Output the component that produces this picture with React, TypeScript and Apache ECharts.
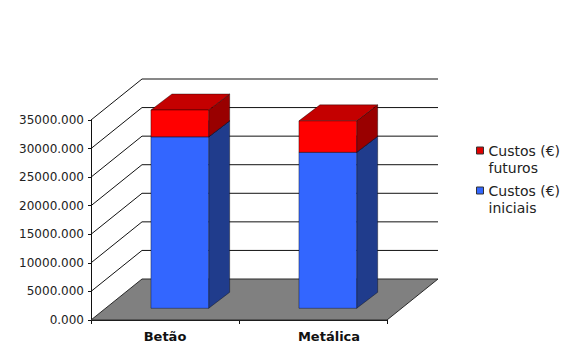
import React, { useEffect, useRef } from 'react';
import * as echarts from 'echarts';

const categories = ['Betão', 'Metálica'];
const initialCosts = [30000, 27300];
const futureCosts = [4700, 5500];
const yTicks = [0, 5000, 10000, 15000, 20000, 25000, 30000, 35000];
const seriesNames = ['Custos (€) futuros', 'Custos (€) iniciais'];

// projection constants (pixels)
const WALL_DX = 51;
const WALL_DY = -41;
const BAR_FX = 14.8;
const BAR_FY = -11.7;
const BAR_DX = 21;
const BAR_DY = -16;
const BAR_W = 0.39;

const FONT = 'DejaVu Sans';

function renderWalls(params: any, api: any) {
  const v = api.value(1);
  const cs = params.coordSys;
  const x0 = cs.x;
  const x1 = cs.x + cs.width;
  const y = api.coord([0, v])[1];
  if (params.dataIndex === 0) {
    return {
      type: 'polygon',
      shape: {
        points: [
          [x0, y],
          [x1, y],
          [x1 + WALL_DX, y + WALL_DY],
          [x0 + WALL_DX, y + WALL_DY],
        ],
      },
      style: { fill: '#808080', stroke: '#2a2a2a', lineWidth: 1 },
    };
  }
  return {
    type: 'polyline',
    shape: {
      points: [
        [x0, y],
        [x0 + WALL_DX, y + WALL_DY],
        [x1 + WALL_DX, y + WALL_DY],
      ],
    },
    style: { fill: 'none', stroke: '#111', lineWidth: 1 },
  };
}

function makeBarRenderer(front: string, side: string, top: string) {
  return (params: any, api: any) => {
    const cat = api.value(0);
    const lo = api.value(1);
    const hi = api.value(2);
    const cs = params.coordSys;
    const band = cs.width / categories.length;
    const w = band * BAR_W;
    const cx = api.coord([cat, 0])[0] + BAR_FX;
    const y0 = api.coord([cat, lo])[1] + BAR_FY;
    const y1 = api.coord([cat, hi])[1] + BAR_FY;
    const fx = cx - w / 2;
    const stroke = 'rgba(0,0,0,0.55)';
    return {
      type: 'group',
      children: [
        {
          type: 'polygon',
          shape: {
            points: [
              [fx + w, y0],
              [fx + w + BAR_DX, y0 + BAR_DY],
              [fx + w + BAR_DX, y1 + BAR_DY],
              [fx + w, y1],
            ],
          },
          style: { fill: side, stroke, lineWidth: 0.7 },
        },
        {
          type: 'polygon',
          shape: {
            points: [
              [fx, y1],
              [fx + w, y1],
              [fx + w + BAR_DX, y1 + BAR_DY],
              [fx + BAR_DX, y1 + BAR_DY],
            ],
          },
          style: { fill: top, stroke, lineWidth: 0.7 },
        },
        {
          type: 'rect',
          shape: { x: fx, y: y1, width: w, height: y0 - y1 },
          style: { fill: front, stroke, lineWidth: 0.7 },
        },
      ],
    };
  };
}

const legendCommon = {
  orient: 'vertical',
  icon: 'rect',
  itemWidth: 7,
  itemHeight: 7,
  padding: 0,
  itemStyle: { borderColor: '#333', borderWidth: 1 },
  formatter: (name: string) => '\n' + name.replace(') ', ')\n'),
  textStyle: {
    fontFamily: FONT,
    fontSize: 14,
    lineHeight: 17,
    color: '#222',
  },
};

export default function App() {
  const ref = useRef<HTMLDivElement>(null);
  useEffect(() => {
    if (!ref.current) return;
    const chart = echarts.init(ref.current, undefined, { renderer: 'svg' });
    const initialStack = categories.map((_, i) => [i, 0, initialCosts[i]]);
    const futureStack = categories.map((_, i) => [
      i,
      initialCosts[i],
      initialCosts[i] + futureCosts[i],
    ]);
    chart.setOption({
      animation: false,
      backgroundColor: '#ffffff',
      grid: { left: 91, top: 120, width: 296, height: 200, containLabel: false },
      legend: [
        { ...legendCommon, data: [seriesNames[0]], left: 476, top: 125 },
        { ...legendCommon, data: [seriesNames[1]], left: 476, top: 165 },
      ],
      xAxis: {
        type: 'category',
        data: categories,
        axisLine: { show: true, lineStyle: { color: '#111', width: 1 } },
        axisTick: { show: true, length: 4, lineStyle: { color: '#111' } },
        axisLabel: {
          margin: 10,
          fontFamily: FONT,
          fontSize: 13,
          fontWeight: 'bold',
          color: '#111',
          formatter: (v: string, i: number) => (i === 1 ? `{m|${v}}` : `{b|${v}}`),
          rich: {
            b: { fontFamily: FONT, fontSize: 13, fontWeight: 'bold', color: '#111' },
            m: {
              fontFamily: FONT,
              fontSize: 13,
              fontWeight: 'bold',
              color: '#111',
              padding: [0, 0, 0, 32],
            },
          },
        },
        splitLine: { show: false },
      },
      yAxis: {
        type: 'value',
        min: 0,
        max: 35000,
        interval: 5000,
        axisLine: { show: true, lineStyle: { color: '#111', width: 1 } },
        axisTick: { show: true, length: 3, lineStyle: { color: '#111' } },
        axisLabel: {
          margin: 7,
          fontFamily: FONT,
          fontSize: 12,
          color: '#222',
          formatter: (v: number) => v.toFixed(3),
        },
        splitLine: { show: false },
      },
      series: [
        {
          type: 'custom',
          name: 'walls',
          clip: false,
          silent: true,
          renderItem: renderWalls,
          data: yTicks.map((v) => [0, v]),
          encode: { x: 0, y: 1 },
          z: 1,
        },
        {
          type: 'custom',
          name: seriesNames[1],
          clip: false,
          itemStyle: { color: '#3366FF' },
          renderItem: makeBarRenderer('#3366FF', '#203C8C', '#2850D0'),
          data: initialStack,
          encode: { x: 0, y: [1, 2] },
          z: 2,
        },
        {
          type: 'custom',
          name: seriesNames[0],
          clip: false,
          itemStyle: { color: '#E00000' },
          renderItem: makeBarRenderer('#FF0000', '#990000', '#C40000'),
          data: futureStack,
          encode: { x: 0, y: [1, 2] },
          z: 3,
        },
      ],
    });
    return () => chart.dispose();
  }, []);
  return (
    <div
      ref={ref}
      style={{ position: 'fixed', left: 0, top: 0, width: 569, height: 345, background: '#fff' }}
    />
  );
}
